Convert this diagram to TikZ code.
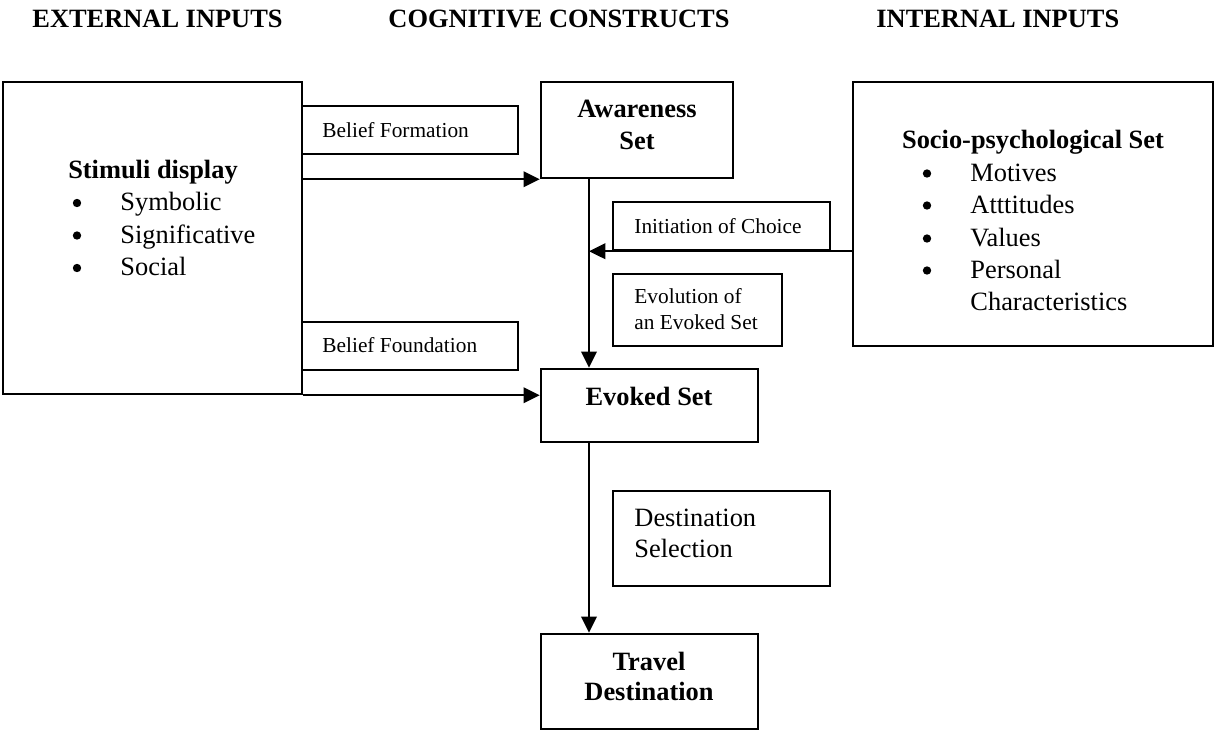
\documentclass[tikz,border=0pt]{standalone}
\usepackage{fontspec}
\setmainfont{Liberation Serif}
\usetikzlibrary{arrows.meta}
\def\uu{0.4545pt}
\tikzset{
  box/.style={draw, line width=1.1pt, inner sep=0pt},
  arr/.style={line width=1.1pt, -{Triangle[length=7.4pt,width=7pt]}},
  head/.style={anchor=base west, inner sep=0pt, font=\fontsize{12}{14}\selectfont\bfseries},
  btitle/.style={anchor=base, inner sep=0pt, font=\fontsize{12}{14}\selectfont\bfseries},
  body/.style={anchor=base west, inner sep=0pt, font=\fontsize{12}{14}\selectfont},
  bul/.style={circle, fill, inner sep=0pt, minimum size=3.8pt},
  small/.style={anchor=base west, inner sep=0pt, font=\fontsize{9.7}{12}\selectfont},
}
% rectangle node from its corners (x1,y1) to (x2,y2)
\newcommand\boxnode[5]{%
  \node[box, minimum width={(#4-#2)*\uu}, minimum height={(#5-#3)*\uu}]
    (#1) at ({(#2+#4)/2},{(#3+#5)/2}) {};}
\begin{document}
\begin{tikzpicture}[x=0.4545pt, y=-0.4545pt]
\useasboundingbox (0,0) rectangle (1227,731);

% column headings
\node[head] (hext) at (32,27) {EXTERNAL INPUTS};
\node[head] (hcog) at (388,27) {COGNITIVE CONSTRUCTS};
\node[head] (hint) at (876,27) {INTERNAL INPUTS};

% boxes
\boxnode{stim}{3}{82}{302}{394}
\boxnode{bform}{302}{106}{518}{154}
\boxnode{bfound}{302}{322}{518}{370}
\boxnode{aware}{541}{82}{733}{178}
\boxnode{init}{613}{202}{830}{250}
\boxnode{evol}{613}{274}{782}{346}
\boxnode{socio}{853}{82}{1213}{346}
\boxnode{evoked}{541}{369}{758}{442}
\boxnode{dest}{613}{491}{830}{586}
\boxnode{travel}{541}{634}{758}{729}

% stimuli display
\node[btitle] (stimT) at (153,178) {Stimuli display};
\node[bul] (sb1) at (77,203) {};
\node[body] (s1) at (120,210.5) {Symbolic};
\node[bul] (sb2) at (77,235.5) {};
\node[body] (s2) at (120,243) {Significative};
\node[bul] (sb3) at (77,268) {};
\node[body] (s3) at (120,275.5) {Social};

% socio-psychological set
\node[btitle] (socT) at (1033,148) {Socio-psychological Set};
\node[bul] (pb1) at (927,173.5) {};
\node[body] (p1) at (970,181) {Motives};
\node[bul] (pb2) at (927,205.5) {};
\node[body] (p2) at (970,213) {Atttitudes};
\node[bul] (pb3) at (927,238.5) {};
\node[body] (p3) at (970,246) {Values};
\node[bul] (pb4) at (927,270.5) {};
\node[body] (p4) at (970,278) {Personal};
\node[body] (p5) at (970,310) {Characteristics};

% cognitive constructs
\node[btitle] (awT1) at (637,117) {Awareness};
\node[btitle] (awT2) at (637,149) {Set};
\node[btitle] (evT) at (649,405) {Evoked Set};
\node[btitle] (trT1) at (649,670) {Travel};
\node[btitle] (trT2) at (649,700) {Destination};

% process labels
\node[small] (bformT) at (322,137) {Belief Formation};
\node[small] (bfoundT) at (322,352) {Belief Foundation};
\node[small] (initT) at (634,233) {Initiation of Choice};
\node[small] (evolT1) at (634,303) {Evolution of};
\node[small] (evolT2) at (634,329) {an Evoked Set};
\node[body] (destT1) at (634,526) {Destination};
\node[body] (destT2) at (634,557) {Selection};

% connectors
\coordinate (spine) at (589,0);
\draw[arr] (stim.east |- aware.south west) -- (aware.south west);
\draw[arr] (stim.south east) -- (evoked.west |- stim.south east);
\draw[arr] (spine |- aware.south) -- (spine |- evoked.north);
\draw[arr] (socio.west |- init.south) -- (spine |- init.south);
\draw[arr] (spine |- evoked.south) -- (spine |- travel.north);
\end{tikzpicture}
\end{document}
